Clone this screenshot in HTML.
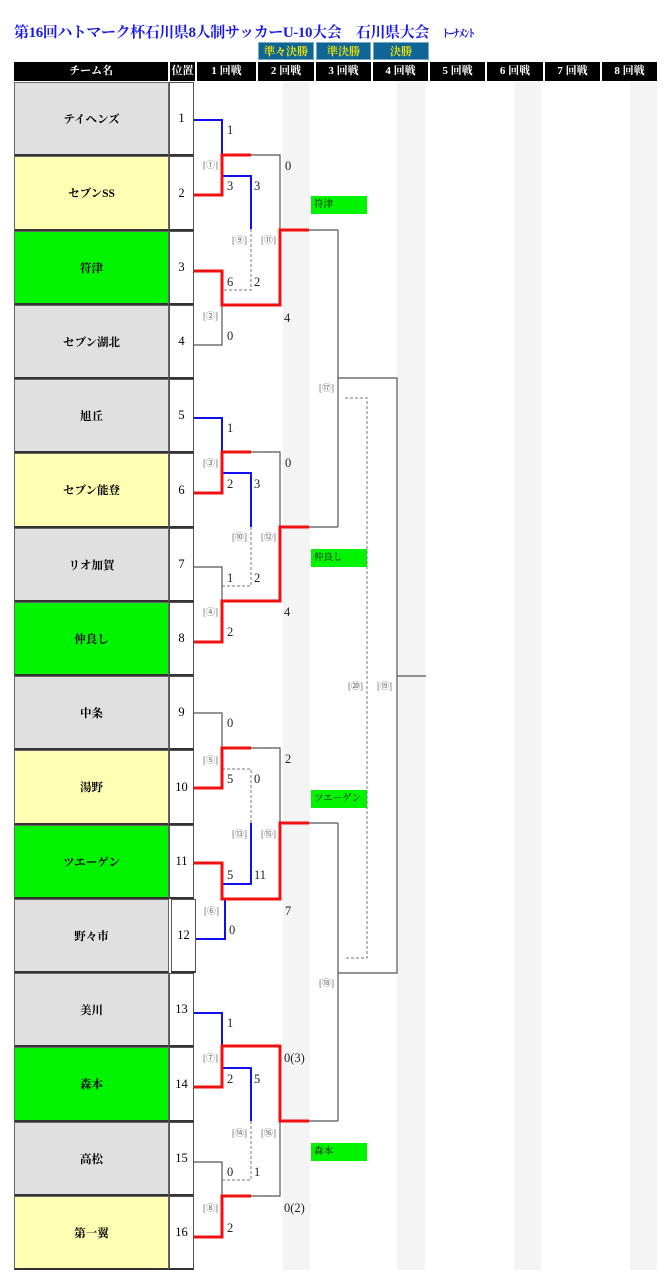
<!DOCTYPE html>
<html><head><meta charset="utf-8"><style>
body{margin:0;width:664px;height:1277px;position:relative;background:#fff;font-family:"Liberation Serif","Noto Serif CJK JP",serif;overflow:hidden}
.a{position:absolute}
.title{left:14px;top:21px;color:#1a1ae6;font-weight:bold;font-size:15px;white-space:nowrap;letter-spacing:-0.4px}
.btn{top:42px;height:18px;background:#0f6595;color:#f2e600;font-size:11px;font-weight:bold;text-align:center;line-height:18px;border:1px solid #7aa9c7;box-sizing:border-box}
.hd{top:62px;height:19px;background:#000;color:#fff;font-size:11px;font-weight:bold;text-align:center;line-height:19px}
.st{top:82px;height:1188px;background:#f4f4f4}
.nm{left:14px;width:155px;box-sizing:border-box;border:1px solid #666;border-bottom:2px solid #333;font-size:11.5px;font-weight:bold;display:flex;align-items:center;justify-content:center}
.ps{left:169px;width:25px;box-sizing:border-box;border:1px solid #555;border-bottom:2px solid #333;background:#fff;font-size:12.5px;display:flex;align-items:center;justify-content:center}
.g{background:#e0e0e0}.y{background:#ffffb4}.gr{background:#00f400}
.lb{position:absolute;left:311px;width:56px;height:18px;background:#00f400;font-size:9.5px;line-height:18px;padding-left:3px;box-sizing:border-box}
</style></head><body>
<div class="a title">第16回ハトマーク杯石川県8人制サッカーU-10大会　石川県大会　<span style="font-size:11px">ﾄｰﾅﾒﾝﾄ</span></div>
<div class="a btn" style="left:258px;width:56px">準々決勝</div>
<div class="a btn" style="left:316px;width:55px">準決勝</div>
<div class="a btn" style="left:373px;width:56px">決勝</div>
<div class="a hd" style="left:14px;width:154px">チーム名</div>
<div class="a hd" style="left:170px;width:25px">位置</div>
<div class="a hd" style="left:197px;width:59px">1 回戦</div>
<div class="a hd" style="left:258px;width:56px">2 回戦</div>
<div class="a hd" style="left:316px;width:55px">3 回戦</div>
<div class="a hd" style="left:373px;width:55px">4 回戦</div>
<div class="a hd" style="left:430px;width:55px">5 回戦</div>
<div class="a hd" style="left:487px;width:56px">6 回戦</div>
<div class="a hd" style="left:545px;width:55px">7 回戦</div>
<div class="a hd" style="left:602px;width:55px">8 回戦</div>
<div class="a st" style="left:283px;width:27px"></div>
<div class="a st" style="left:397px;width:28px"></div>
<div class="a st" style="left:514px;width:27px"></div>
<div class="a st" style="left:630px;width:27px"></div>

<div class="a nm g" style="top:82px;height:74px">テイヘンズ</div><div class="a ps" style="top:82px;height:74px">1</div>
<div class="a nm y" style="top:156px;height:75px">セブンSS</div><div class="a ps" style="top:156px;height:75px">2</div>
<div class="a nm gr" style="top:231px;height:74px">符津</div><div class="a ps" style="top:231px;height:74px">3</div>
<div class="a nm g" style="top:305px;height:74px">セブン湖北</div><div class="a ps" style="top:305px;height:74px">4</div>
<div class="a nm g" style="top:379px;height:74px">旭丘</div><div class="a ps" style="top:379px;height:74px">5</div>
<div class="a nm y" style="top:453px;height:75px">セブン能登</div><div class="a ps" style="top:453px;height:75px">6</div>
<div class="a nm g" style="top:528px;height:74px">リオ加賀</div><div class="a ps" style="top:528px;height:74px">7</div>
<div class="a nm gr" style="top:602px;height:74px">仲良し</div><div class="a ps" style="top:602px;height:74px">8</div>
<div class="a nm g" style="top:676px;height:74px">中条</div><div class="a ps" style="top:676px;height:74px">9</div>
<div class="a nm y" style="top:750px;height:75px">湯野</div><div class="a ps" style="top:750px;height:75px">10</div>
<div class="a nm gr" style="top:825px;height:74px">ツエーゲン</div><div class="a ps" style="top:825px;height:74px">11</div>
<div class="a nm g" style="top:899px;height:74px">野々市</div><div class="a ps" style="top:899px;height:74px;left:171px">12</div>
<div class="a nm g" style="top:973px;height:74px">美川</div><div class="a ps" style="top:973px;height:74px">13</div>
<div class="a nm gr" style="top:1047px;height:75px">森本</div><div class="a ps" style="top:1047px;height:75px">14</div>
<div class="a nm g" style="top:1122px;height:74px">高松</div><div class="a ps" style="top:1122px;height:74px">15</div>
<div class="a nm y" style="top:1196px;height:74px">第一翼</div><div class="a ps" style="top:1196px;height:74px">16</div>

<div class="lb" style="top:196px">符津</div>
<div class="lb" style="top:549px">仲良し</div>
<div class="lb" style="top:790px">ツエーゲン</div>
<div class="lb" style="top:1143px">森本</div>

<svg class="a" style="left:0;top:0" width="664" height="1277" viewBox="0 0 664 1277">
<g fill="none" stroke="#555" stroke-width="1.2">
<path d="M251,155H280V230M194,345H222V305M309,230H338"/>
<path d="M251,452H280V527M194,567H222V601M309,527H338"/>
<path d="M194,713H222V748M251,748H280V823M309,823H338"/>
<path d="M194,1162H222V1196M251,1196H280V1121M309,1121H338"/>
<path d="M338,230V527M338,378H397V973H338M338,823V1121M397,676H426"/>
</g>
<g fill="none" stroke="#777" stroke-width="1" stroke-dasharray="3,2">
<path d="M251,229V290H222M251,527V586H222M222,769H251V823M251,1121V1180H222M345,398H367V958H345"/>
</g>
<g fill="none" stroke="#1010ee" stroke-width="2">
<path d="M194,120H222V155M222,176H251V229"/>
<path d="M194,418H222V452M222,473H251V527"/>
<path d="M251,823V884H222M196,939H225V899"/>
<path d="M194,1013H222V1046M222,1068H251V1121"/>
</g>
<g fill="none" stroke="#f01010" stroke-width="3">
<path d="M194,195H222V155H251M194,271H222V305H280V230H309"/>
<path d="M194,493H222V452H251M194,642H222V601H280V527H309"/>
<path d="M194,788H222V748H251M194,863H222V899H280V823H309"/>
<path d="M194,1087H222V1046H280V1121H309M194,1237H222V1196H251"/>
</g>
<g font-family="Liberation Serif,Noto Serif CJK JP,serif" font-size="12.5" fill="#222">
<text x="227" y="134">1</text><text x="227" y="190">3</text><text x="254" y="190">3</text><text x="285" y="170">0</text>
<text x="227" y="286">6</text><text x="254" y="286">2</text><text x="227" y="340">0</text><text x="284" y="322">4</text>
<text x="227" y="432">1</text><text x="227" y="488">2</text><text x="254" y="488">3</text><text x="285" y="467">0</text>
<text x="227" y="582">1</text><text x="254" y="582">2</text><text x="227" y="636">2</text><text x="284" y="616">4</text>
<text x="227" y="727">0</text><text x="227" y="783">5</text><text x="254" y="783">0</text><text x="285" y="763">2</text>
<text x="227" y="879">5</text><text x="254" y="879">11</text><text x="285" y="915">7</text><text x="229" y="934">0</text>
<text x="227" y="1027">1</text><text x="227" y="1083">2</text><text x="254" y="1083">5</text><text x="284" y="1062">0(3)</text>
<text x="227" y="1176">0</text><text x="254" y="1176">1</text><text x="284" y="1212">0(2)</text><text x="227" y="1232">2</text>
</g>
<g font-family="Liberation Serif,Noto Sans CJK JP,serif" font-size="9" fill="#666">
<text x="203" y="168">[①]</text><text x="203" y="319">[②]</text><text x="232" y="243">[⑨]</text><text x="261" y="243">[⑪]</text>
<text x="203" y="466">[③]</text><text x="203" y="615">[④]</text><text x="232" y="540">[⑩]</text><text x="261" y="540">[⑫]</text>
<text x="203" y="763">[⑤]</text><text x="204" y="914">[⑥]</text><text x="232" y="837">[⑬]</text><text x="261" y="837">[⑮]</text>
<text x="203" y="1061">[⑦]</text><text x="203" y="1211">[⑧]</text><text x="232" y="1136">[⑭]</text><text x="261" y="1136">[⑯]</text>
<text x="319" y="391">[⑰]</text><text x="319" y="986">[⑱]</text><text x="348" y="689">[⑳]</text><text x="377" y="689">[⑲]</text>
</g>
</svg>
</body></html>
